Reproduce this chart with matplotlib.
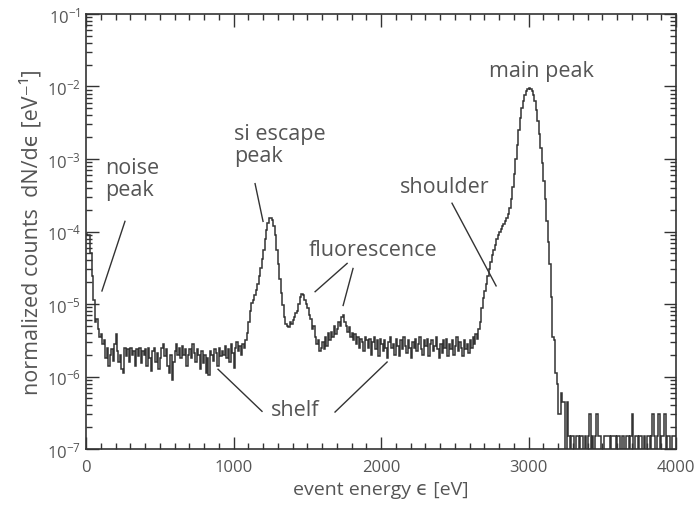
import numpy as np
import matplotlib
matplotlib.use("Agg")
import matplotlib.pyplot as plt
from matplotlib.ticker import LogLocator, MultipleLocator

plt.rcParams['font.family'] = ['Open Sans', 'DejaVu Sans']
plt.rcParams['mathtext.fontset'] = 'custom'
plt.rcParams['mathtext.rm'] = 'Open Sans'

# histogram 0..3200 eV, 10 eV bins, values as log10(dN/de)
bin_width = 10
log_dnde = [
    -4.03, -4.05, -4.05, -4.30, -4.62, -4.95, -5.25, -5.20, -5.35, -5.45,   # 0
    -5.42, -5.55, -5.50, -5.75, -5.60, -5.85, -5.70, -5.62, -5.78, -5.55,   # 100
    -5.42, -5.65, -5.80, -5.70, -5.90, -5.95, -5.60, -5.72, -5.62, -5.80,   # 200
    -5.60, -5.70, -5.65, -5.85, -5.62, -5.72, -5.60, -5.82, -5.65, -5.70,   # 300
    -5.62, -5.85, -5.60, -5.75, -5.92, -5.65, -5.60, -5.80, -5.68, -5.90,   # 400
    -5.75, -5.60, -5.55, -5.72, -5.62, -5.85, -5.95, -5.70, -6.05, -5.80,   # 500
    -5.65, -5.55, -5.70, -5.60, -5.75, -5.58, -5.70, -5.62, -5.85, -5.70,   # 600
    -5.62, -5.75, -5.55, -5.68, -5.80, -5.62, -5.70, -5.90, -5.65, -5.82,   # 700
    -5.70, -5.95, -5.75, -5.98, -5.65, -5.70, -5.78, -5.62, -5.68, -5.85,   # 800
    -5.60, -5.72, -5.65, -5.70, -5.58, -5.75, -5.62, -5.80, -5.55, -5.68,   # 900
    -5.88, -5.60, -5.52, -5.65, -5.58, -5.70, -5.55, -5.60, -5.50, -5.40,   # 1000
    -5.25, -5.10, -4.98, -4.95, -4.88, -4.80, -4.72, -4.62, -4.50, -4.38,   # 1100
    -4.25, -4.10, -3.98, -3.88, -3.82, -3.81, -3.84, -3.92, -4.05, -4.25,   # 1200
    -4.45, -4.65, -4.85, -5.02, -5.18, -5.28, -5.30, -5.32, -5.25, -5.28,   # 1300
    -5.22, -5.18, -5.12, -5.10, -5.00, -4.90, -4.86, -4.88, -4.95, -5.00,   # 1400
    -5.05, -5.15, -5.20, -5.35, -5.30, -5.45, -5.55, -5.50, -5.65, -5.60,   # 1500
    -5.52, -5.62, -5.45, -5.58, -5.40, -5.50, -5.38, -5.45, -5.30, -5.42,   # 1600
    -5.35, -5.25, -5.30, -5.18, -5.15, -5.25, -5.30, -5.38, -5.32, -5.45,   # 1700
    -5.40, -5.50, -5.42, -5.55, -5.45, -5.60, -5.48, -5.52, -5.65, -5.45,   # 1800
    -5.50, -5.60, -5.48, -5.70, -5.52, -5.45, -5.62, -5.50, -5.72, -5.48,   # 1900
    -5.55, -5.65, -5.50, -5.60, -5.75, -5.52, -5.45, -5.60, -5.55, -5.70,   # 2000
    -5.48, -5.58, -5.72, -5.50, -5.62, -5.45, -5.58, -5.68, -5.50, -5.60,   # 2100
    -5.75, -5.52, -5.60, -5.48, -5.65, -5.55, -5.45, -5.62, -5.70, -5.50,   # 2200
    -5.58, -5.48, -5.72, -5.55, -5.50, -5.65, -5.58, -5.45, -5.62, -5.75,   # 2300
    -5.55, -5.68, -5.50, -5.60, -5.48, -5.72, -5.55, -5.62, -5.50, -5.70,   # 2400
    -5.58, -5.45, -5.65, -5.52, -5.60, -5.72, -5.50, -5.62, -5.55, -5.68,   # 2500
    -5.50, -5.60, -5.45, -5.55, -5.42, -5.48, -5.35, -5.25, -5.05, -4.92,   # 2600
    -4.82, -4.72, -4.62, -4.52, -4.42, -4.33, -4.25, -4.18, -4.10, -4.05,   # 2700
    -4.00, -3.96, -3.93, -3.90, -3.86, -3.82, -3.76, -3.68, -3.55, -3.38,   # 2800
    -3.20, -3.00, -2.80, -2.60, -2.43, -2.30, -2.20, -2.12, -2.06, -2.03,   # 2900
    -2.02, -2.03, -2.06, -2.12, -2.20, -2.32, -2.47, -2.65, -2.85, -3.05,   # 3000
    -3.30, -3.55, -3.85, -4.15, -4.45, -4.90, -5.45, -5.50, -5.95, -6.10,   # 3100
]

# tail 3200..4000 eV, 10 eV bins, raw counts (one count = count_unit)
count_unit = 1.5e-7
tail_counts = [
    2, 2, 4, 3, 3, 0, 3, 1, 0, 1, 1, 0, 1, 1, 0, 1, 1, 0, 1, 0,
    1, 2, 0, 1, 0, 1, 2, 1, 1, 0, 0, 1, 1, 1, 1, 0, 1, 1, 1, 0,
    1, 1, 0, 1, 1, 0, 1, 1, 0, 1, 2, 0, 1, 1, 0, 1, 1, 0, 1, 0,
    1, 1, 0, 1, 2, 1, 0, 1, 2, 0, 1, 1, 2, 0, 1, 1, 0, 1, 1, 1,
]

main_vals = 10.0 ** np.array(log_dnde)
tail_vals = np.array(tail_counts) * count_unit
tail_vals[tail_vals == 0] = 1e-10  # empty bins drop to the floor

vals = np.concatenate([main_vals, tail_vals])
edges = np.arange(len(vals) + 1) * bin_width

ink = '#333333'
txt = '#555555'

fig = plt.figure(figsize=(6.97, 5.10), dpi=100)
ax = fig.add_axes([0.1234, 0.1176, 0.8466, 0.8530])
ax.stairs(vals, edges, color=ink, lw=1.1, baseline=None)

ax.set_yscale('log')
ax.set_xlim(0, 4000)
ax.set_ylim(1e-7, 1e-1)

ax.xaxis.set_major_locator(MultipleLocator(1000))
ax.xaxis.set_minor_locator(MultipleLocator(100))
ax.yaxis.set_major_locator(LogLocator(base=10, numticks=10))
ax.yaxis.set_minor_locator(LogLocator(base=10, subs=np.arange(2, 10), numticks=10))
ax.tick_params(which='both', direction='in', top=True, right=True, colors=ink,
               labelcolor=txt, labelsize=12, width=1)
ax.tick_params(which='major', length=9)
ax.tick_params(which='minor', length=4.5)
ax.tick_params(axis='x', pad=7)
for s in ax.spines.values():
    s.set_color(ink)
    s.set_linewidth(1.2)

ax.set_xlabel('event energy ϵ [eV]', fontsize=14, color=txt, labelpad=4)
ax.set_ylabel('normalized counts  dN/dϵ [eV⁻¹]', fontsize=15.5, color=txt, labelpad=3)

# annotations
fs = 15.5
ax.text(129, 10**-2.97, 'noise\npeak', fontsize=fs, color=txt, va='top', ha='left', linespacing=1.05)
ax.plot([264, 108], [10**-3.86, 10**-4.82], color=ink, lw=1)

ax.text(1003, 10**-2.50, 'si escape\npeak', fontsize=fs, color=txt, va='top', ha='left', linespacing=1.05)
ax.plot([1146, 1200], [10**-3.34, 10**-3.86], color=ink, lw=1)

ax.text(1512, 10**-4.10, 'fluorescence', fontsize=fs, color=txt, va='top', ha='left')
ax.plot([1770, 1553], [10**-4.44, 10**-4.83], color=ink, lw=1)
ax.plot([1810, 1743], [10**-4.51, 10**-5.02], color=ink, lw=1)

ax.text(2130, 10**-3.24, 'shoulder', fontsize=fs, color=txt, va='top', ha='left')
ax.plot([2481, 2780], [10**-3.61, 10**-4.75], color=ink, lw=1)

ax.text(3087, 10**-1.63, 'main peak', fontsize=fs, color=txt, va='top', ha='center')

ax.text(1415, 10**-6.45, 'shelf', fontsize=fs, color=txt, va='center', ha='center')
ax.plot([1193, 895], [10**-6.48, 10**-5.90], color=ink, lw=1)
ax.plot([1688, 2041], [10**-6.49, 10**-5.80], color=ink, lw=1)

fig.savefig('out.png', dpi=100)
